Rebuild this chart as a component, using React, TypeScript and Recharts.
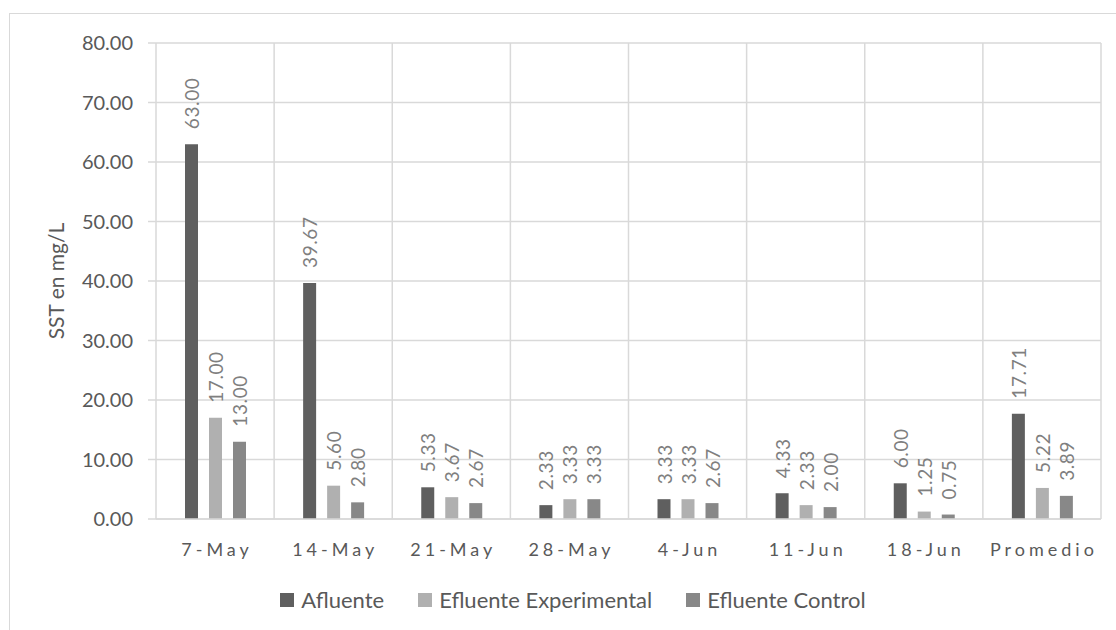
import React from "react";
import { BarChart, Bar, XAxis, YAxis, CartesianGrid, Legend, LabelList } from "recharts";

// SST (mg/L) por semana: afluente vs. efluentes experimental y control
const fechas = ["7-May", "14-May", "21-May", "28-May", "4-Jun", "11-Jun", "18-Jun", "Promedio"];
const afluente = [63.0, 39.67, 5.33, 2.33, 3.33, 4.33, 6.0, 17.71];
const efluenteExperimental = [17.0, 5.6, 3.67, 3.33, 3.33, 2.33, 1.25, 5.22];
const efluenteControl = [13.0, 2.8, 2.67, 3.33, 2.67, 2.0, 0.75, 3.89];
const yTicks = [0, 10, 20, 30, 40, 50, 60, 70, 80];

const series = [
  { key: "afluente", name: "Afluente", color: "#5f5f5f" },
  { key: "experimental", name: "Efluente Experimental", color: "#b0b0b0" },
  { key: "control", name: "Efluente Control", color: "#888888" },
];

const data = fechas.map((fecha, i) => ({
  fecha,
  afluente: afluente[i],
  experimental: efluenteExperimental[i],
  control: efluenteControl[i],
}));

const FONT = "Lato, 'Open Sans', sans-serif";
const GRID = "#d9d9d9";
const TEXT = "#595959";

// x labels are spaced out like the Excel original
function FechaTick({ x, y, payload }: any) {
  return (
    <text x={x} y={y} dx={2} dy={37} textAnchor="middle" fill={TEXT} fontSize={18} letterSpacing={4} fontFamily={FONT}>
      {payload.value}
    </text>
  );
}

// vertical value label sitting above each bar
function EtiquetaValor(props: any) {
  const x = Number(props.x);
  const y = Number(props.y);
  const w = Number(props.width);
  return (
    <text
      x={0}
      y={0}
      transform={`translate(${x + w / 2}, ${y - 15}) rotate(-90)`}
      textAnchor="start"
      dominantBaseline="central"
      fontSize={19}
      letterSpacing={0.6}
      fill="#7f7f7f"
      fontFamily={FONT}
    >
      {Number(props.value).toFixed(2)}
    </text>
  );
}

function TituloEje({ viewBox }: any) {
  const cx = viewBox.x + 45;
  const cy = viewBox.y + viewBox.height / 2;
  return (
    <text x={cx} y={cy} transform={`rotate(-90, ${cx}, ${cy})`} textAnchor="middle" dominantBaseline="central" fontSize={21} fill={TEXT} fontFamily={FONT}>
      SST en mg/L
    </text>
  );
}

function Leyenda() {
  return (
    <div style={{ display: "flex", justifyContent: "center", paddingLeft: 64, fontFamily: FONT, fontSize: 22, color: TEXT }}>
      {series.map((s) => (
        <div key={s.key} style={{ display: "flex", alignItems: "center", marginRight: 34 }}>
          <span style={{ width: 14, height: 14, background: s.color, marginRight: 7, display: "inline-block" }} />
          <span>{s.name}</span>
        </div>
      ))}
    </div>
  );
}

export default function App() {
  return (
    <div style={{ position: "fixed", left: 0, top: 0, width: 1116, height: 630, overflow: "hidden", background: "#fff" }}>
      <div style={{ position: "absolute", left: 9, top: 13, width: 1200, height: 700, border: `1.5px solid ${GRID}` }} />
      <BarChart
        width={1116}
        height={630}
        data={data}
        margin={{ top: 43, right: 15, bottom: 71, left: 10 }}
        barSize={13}
        barGap={11}
      >
        <CartesianGrid
          stroke={GRID}
          strokeWidth={1.5}
          verticalCoordinatesGenerator={({ offset }: any) =>
            Array.from({ length: fechas.length + 1 }, (_, i) => offset.left + (i * offset.width) / fechas.length)
          }
        />
        <XAxis
          dataKey="fecha"
          height={40}
          tickLine={false}
          tickSize={0}
          tickMargin={0}
          axisLine={{ stroke: GRID, strokeWidth: 1.5 }}
          tick={<FechaTick />}
          interval={0}
        />
        <YAxis
          domain={[0, 80]}
          ticks={yTicks}
          width={146}
          axisLine={false}
          tickLine={{ stroke: GRID, strokeWidth: 1.5 }}
          tickSize={8}
          tickMargin={15}
          tickFormatter={(v: number) => v.toFixed(2)}
          tick={{ fill: TEXT, fontSize: 20, fontFamily: FONT }}
          label={{ content: <TituloEje /> }}
        />
        <Legend
          layout="horizontal"
          verticalAlign="middle"
          align="center"
          wrapperStyle={{ top: 586, left: 0, width: 1116 }}
          content={() => <Leyenda />}
        />
        {series.map((s) => (
          <Bar key={s.key} dataKey={s.key} name={s.name} fill={s.color} isAnimationActive={false}>
            <LabelList dataKey={s.key} content={<EtiquetaValor />} />
          </Bar>
        ))}
      </BarChart>
    </div>
  );
}
